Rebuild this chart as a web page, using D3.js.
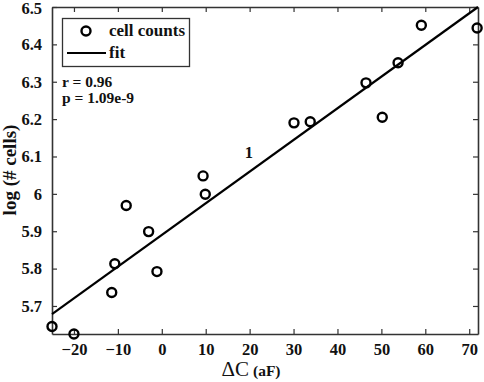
<!DOCTYPE html>
<html>
<head>
<meta charset="utf-8">
<script src="https://cdn.jsdelivr.net/npm/d3@7"></script>
<style>
  body { margin: 0; background: #fff; }
  text { font-family: "Liberation Serif", "DejaVu Serif", serif; font-weight: bold; fill: #111; }
</style>
</head>
<body>
<div id="chart"></div>
<script>
// cell count measurements
const deltaC = [-25, -20, -11.4, -10.7, -8.1, -3.0, -1.1, 9.4, 9.9, 30.1, 33.8, 46.5, 50.2, 53.8, 59.1, 71.8];
const logCells = [5.645, 5.625, 5.736, 5.813, 5.969, 5.899, 5.792, 6.048, 5.999, 6.190, 6.193, 6.297, 6.205, 6.351, 6.451, 6.444];
// fit line endpoints
const fitX = [-25, 72];
const fitY = [5.678, 6.5];
const xTicks = [-20, -10, 0, 10, 20, 30, 40, 50, 60, 70];
const yTicks = [5.7, 5.8, 5.9, 6, 6.1, 6.2, 6.3, 6.4, 6.5];

const width = 484, height = 382;
const margin = {top: 7, right: 6, bottom: 48, left: 52};
const w = width - margin.left - margin.right;
const h = height - margin.top - margin.bottom;

const svg = d3.select("#chart").append("svg")
    .attr("width", width)
    .attr("height", height);

const g = svg.append("g")
    .attr("transform", "translate(" + margin.left + "," + margin.top + ")");

const x = d3.scaleLinear().domain([-25, 72]).range([0, w]);
const y = d3.scaleLinear().domain([5.625, 6.5]).range([h, 0]);

const axisColor = "#333";

// bottom + top
g.append("g")
    .attr("transform", "translate(0," + h + ")")
    .call(d3.axisBottom(x).tickValues(xTicks).tickSizeInner(-5).tickSizeOuter(0).tickPadding(9).tickFormat(d3.format("d")))
    .call(a => a.selectAll("text").attr("font-size", 16.5));
g.append("g")
    .call(d3.axisTop(x).tickValues(xTicks).tickSizeInner(-5).tickSizeOuter(0).tickFormat(""));
// left + right
g.append("g")
    .call(d3.axisLeft(y).tickValues(yTicks).tickSizeInner(-5).tickSizeOuter(0).tickPadding(10).tickFormat(d => d === 6 ? "6" : d3.format(".1f")(d)))
    .call(a => a.selectAll("text").attr("font-size", 16.5))
    .call(a => a.selectAll(".tick").filter(d => d === 6.5).select("text").attr("dy", "0.42em"));
g.append("g")
    .attr("transform", "translate(" + w + ",0)")
    .call(d3.axisRight(y).tickValues(yTicks).tickSizeInner(-5).tickSizeOuter(0).tickFormat(""));

g.selectAll(".domain").attr("stroke", axisColor).attr("stroke-width", 1.6);
g.selectAll(".tick line").attr("stroke", axisColor).attr("stroke-width", 1.2);
g.selectAll(".tick text").attr("fill", "#222").attr("font-family", "Liberation Serif").attr("font-weight", "bold");

// fit line
g.append("line")
    .attr("x1", x(fitX[0])).attr("y1", y(fitY[0]))
    .attr("x2", x(fitX[1])).attr("y2", y(fitY[1]))
    .attr("stroke", "#000")
    .attr("stroke-width", 2.2);

// points
g.selectAll(".pt")
    .data(deltaC.map((d, i) => [d, logCells[i]]))
    .enter()
    .append("circle")
    .attr("class", "pt")
    .attr("cx", d => x(d[0]))
    .attr("cy", d => y(d[1]))
    .attr("r", 4.5)
    .attr("fill", "none")
    .attr("stroke", "#000")
    .attr("stroke-width", 2.4);

// stray label
g.append("text")
    .attr("x", x(18.9)).attr("y", y(6.095))
    .attr("font-size", 16.5)
    .text("1");

// legend
const leg = svg.append("g");
leg.append("rect")
    .attr("x", 62.5).attr("y", 18.5).attr("width", 127).attr("height", 48)
    .attr("fill", "#fff").attr("stroke", "#333").attr("stroke-width", 1.3);
leg.append("circle")
    .attr("cx", 86).attr("cy", 31).attr("r", 4.5)
    .attr("fill", "none").attr("stroke", "#000").attr("stroke-width", 2.4);
leg.append("text").attr("x", 109).attr("y", 36).attr("font-size", 17).text("cell counts");
leg.append("line")
    .attr("x1", 67).attr("x2", 106).attr("y1", 53).attr("y2", 53)
    .attr("stroke", "#000").attr("stroke-width", 2.2);
leg.append("text").attr("x", 109).attr("y", 58).attr("font-size", 17).text("fit");

// stats
svg.append("text").attr("x", 62).attr("y", 87).attr("font-size", 15.5).text("r = 0.96");
svg.append("text").attr("x", 62).attr("y", 103).attr("font-size", 15.5).text("p = 1.09e-9");

// axis titles
const xl = svg.append("text")
    .attr("x", 251).attr("y", 376)
    .attr("text-anchor", "middle");
xl.append("tspan").attr("font-size", 21).attr("font-weight", "normal").text("ΔC");
xl.append("tspan").attr("font-size", 15.5).attr("dx", 4).text("(aF)");

svg.append("text")
    .attr("transform", "translate(16,170) rotate(-90)")
    .attr("text-anchor", "middle")
    .attr("font-size", 19)
    .text("log (# cells)");
</script>
</body>
</html>
